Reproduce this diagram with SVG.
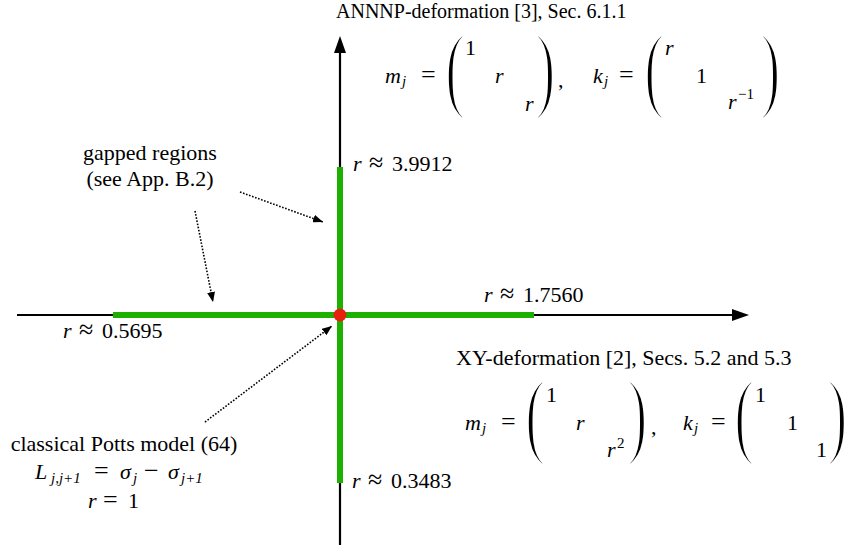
<svg xmlns="http://www.w3.org/2000/svg" width="847" height="548" viewBox="0 0 847 548">
<defs>
<style>
.t{font-family:"Liberation Serif","Times New Roman",serif;font-size:22px;fill:#000}
.m{font-family:"Liberation Serif","Times New Roman",serif;font-size:22px;fill:#000}
.i{font-style:italic}
.s{font-size:15px}
.e{font-size:26px}
.p{font-family:"Liberation Serif","Times New Roman",serif;font-size:96px;fill:#000;stroke:#fff;stroke-width:3}
.axis{stroke:#000;stroke-width:2.2;fill:none}
.gap{stroke:#1eb000;stroke-width:6;fill:none}
.dot{stroke:#000;stroke-width:1.6;stroke-dasharray:1.6 1.6;fill:none}
</style>
<marker id="ah" viewBox="0 0 10 8" refX="10" refY="4" markerWidth="10" markerHeight="8" markerUnits="userSpaceOnUse" orient="auto">
<path d="M0,0 L10,4 L0,8 Z" fill="#000"/>
</marker>
</defs>
<rect width="847" height="548" fill="#fff"/>

<g id="connectors">
<line class="axis" x1="340" y1="545" x2="340" y2="50"/>
<polygon points="340,36 334,53 346,53" fill="#000"/>
<line class="axis" x1="17" y1="315" x2="735" y2="315"/>
<polygon points="749,315 732,309 732,321" fill="#000"/>
<line class="gap" x1="113" y1="315" x2="534" y2="315"/>
<line class="gap" x1="340" y1="167" x2="340" y2="483"/>
<line class="dot" x1="240" y1="192" x2="323" y2="222" marker-end="url(#ah)"/>
<line class="dot" x1="195" y1="211" x2="213" y2="302" marker-end="url(#ah)"/>
<line class="dot" x1="205" y1="422" x2="332" y2="326" marker-end="url(#ah)"/>
</g>

<g id="origin">
<circle cx="340" cy="315" r="6.5" fill="#e8210f"/>
</g>

<g id="annnp">
<text class="t" x="336" y="18" style="font-size:20px">ANNNP-deformation [3], Sec. 6.1.1</text>
<text class="p" transform="translate(445.2,100.4) scale(0.62,1)">(</text>
<text class="p" transform="translate(535.4,100.4) scale(0.62,1)">)</text>
<text class="p" transform="translate(644.2,100.4) scale(0.62,1)">(</text>
<text class="p" transform="translate(760.4,100.4) scale(0.62,1)">)</text>
<text class="m" y="83"><tspan class="i" x="385">m</tspan><tspan class="i s" x="402" dy="3">j</tspan><tspan class="e" x="421" dy="-3">=</tspan></text>
<text class="m" x="465" y="55">1</text>
<text class="m i" x="495" y="83">r</text>
<text class="m i" x="525" y="111">r</text>
<text class="m" x="558" y="87">,</text>
<text class="m" y="83"><tspan class="i" x="593">k</tspan><tspan class="i s" x="604" dy="3">j</tspan><tspan class="e" x="619" dy="-3">=</tspan></text>
<text class="m i" x="665" y="55">r</text>
<text class="m" x="696" y="83">1</text>
<text class="m" y="109"><tspan class="i" x="728">r</tspan><tspan class="s" x="738" dy="-10">−1</tspan></text>
</g>

<g id="xy">
<text class="t" x="456" y="365">XY-deformation [2], Secs. 5.2 and 5.3</text>
<text class="p" transform="translate(525.2,446.4) scale(0.62,1)">(</text>
<text class="p" transform="translate(627.4,446.4) scale(0.62,1)">)</text>
<text class="p" transform="translate(734.2,446.4) scale(0.62,1)">(</text>
<text class="p" transform="translate(827.4,446.4) scale(0.62,1)">)</text>
<text class="m" y="430"><tspan class="i" x="465">m</tspan><tspan class="i s" x="482" dy="3">j</tspan><tspan class="e" x="501" dy="-3">=</tspan></text>
<text class="m" x="546" y="402">1</text>
<text class="m i" x="576" y="430">r</text>
<text class="m" y="457"><tspan class="i" x="607">r</tspan><tspan class="s" x="617" dy="-9">2</tspan></text>
<text class="m" x="651" y="434">,</text>
<text class="m" y="430"><tspan class="i" x="683">k</tspan><tspan class="i s" x="694" dy="3">j</tspan><tspan class="e" x="711" dy="-3">=</tspan></text>
<text class="m" x="755" y="402">1</text>
<text class="m" x="787" y="430">1</text>
<text class="m" x="816" y="457">1</text>
</g>

<g id="gapped">
<text class="t" x="150" y="160" text-anchor="middle">gapped regions</text>
<text class="t" x="150" y="186" text-anchor="middle">(see App. B.2)</text>
</g>

<g id="potts">
<text class="t" x="124" y="451" text-anchor="middle">classical Potts model (64)</text>
<text class="m" y="479"><tspan class="i" x="35">L</tspan><tspan class="i s" x="51" dy="4">j,j+1</tspan><tspan class="e" x="94" dy="-4">=</tspan><tspan class="i" x="120">σ</tspan><tspan class="i s" x="133" dy="4">j</tspan><tspan class="e" x="144" dy="-4">−</tspan><tspan class="i" x="168">σ</tspan><tspan class="i s" x="181" dy="4">j+1</tspan></text>
<text class="m" y="508"><tspan class="i" x="88">r</tspan><tspan class="e" x="103">=</tspan><tspan x="128">1</tspan></text>
</g>

<g id="labels">
<text class="m" y="171"><tspan class="i" x="353">r</tspan><tspan class="e" x="369">≈</tspan><tspan x="392">3.9912</tspan></text>
<text class="m" y="302"><tspan class="i" x="484">r</tspan><tspan class="e" x="500">≈</tspan><tspan x="523">1.7560</tspan></text>
<text class="m" y="338"><tspan class="i" x="63">r</tspan><tspan class="e" x="79">≈</tspan><tspan x="102">0.5695</tspan></text>
<text class="m" y="488"><tspan class="i" x="352">r</tspan><tspan class="e" x="368">≈</tspan><tspan x="391">0.3483</tspan></text>
</g>
</svg>
